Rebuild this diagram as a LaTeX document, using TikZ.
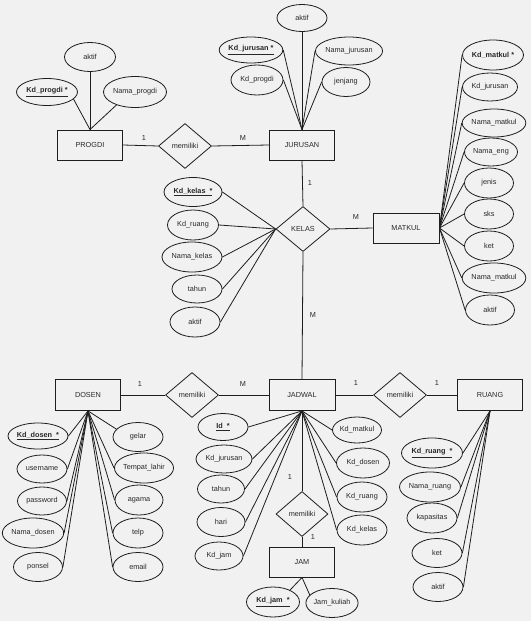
\documentclass[tikz,border=0pt]{standalone}
\usepackage{fontspec}
\setmainfont{Liberation Sans}
\usetikzlibrary{shapes.geometric}
\definecolor{bgc}{RGB}{241,241,241}
\definecolor{ink}{RGB}{30,30,30}
\definecolor{txt}{RGB}{40,40,40}
\newcommand{\pk}[1]{\underline{\textbf{#1}}}
\begin{document}
\begin{tikzpicture}[x=1pt,y=-1pt,
  every node/.style={font=\fontsize{7.3}{8.5}\selectfont, text=txt},
  ent/.style={draw=ink, line width=0.9pt, rectangle, minimum width=65pt, minimum height=30pt, inner sep=0pt},
  rel/.style={draw=ink, line width=0.8pt, diamond, minimum width=53pt, minimum height=45pt, inner sep=0pt},
  attr/.style 2 args={draw=ink, line width=0.8pt, ellipse, minimum width=#1pt, minimum height=#2pt, inner sep=0pt},
  card/.style={inner sep=0pt},
  conn/.style={draw=ink, line width=0.8pt}]
\fill[bgc] (0,0) rectangle (531,621);
\useasboundingbox (0,0) rectangle (531,621);

% entities and relations
\node[ent] (progdi) at (90,145) {PROGDI};
\node[rel] (m1) at (185,146) {memiliki};
\node[ent] (jur) at (302,145) {JURUSAN};
\node[rel, minimum width=54pt] (kelas) at (303,229) {KELAS};
\node[ent, minimum width=66pt] (matkul) at (406,228) {MATKUL};
\node[ent, minimum height=31pt] (dosen) at (88,395) {DOSEN};
\node[rel] (m2) at (192,395) {memiliki};
\node[ent, minimum width=66pt, minimum height=31pt] (jadwal) at (302,395) {JADWAL};
\node[rel] (m3) at (400,395) {memiliki};
\node[ent, minimum height=31pt] (ruang) at (490,395) {RUANG};
\node[rel, minimum width=52pt] (m4) at (302,514) {memiliki};
\node[ent] (jam) at (302,562) {JAM};

% relationship lines
\draw[conn] (progdi.east) -- (m1.west);
\draw[conn] (m1.east) -- (jur.west);
\draw[conn] (jur.south) -- (kelas.north);
\draw[conn] (kelas.east) -- (matkul.west);
\draw[conn] (kelas.south) -- (jadwal.north);
\draw[conn] (dosen.east) -- (m2.west);
\draw[conn] (m2.east) -- (jadwal.west);
\draw[conn] (jadwal.east) -- (m3.west);
\draw[conn] (m3.east) -- (ruang.west);
\draw[conn] (jadwal.south) -- (m4.north);
\draw[conn] (m4.south) -- (jam.north);

% cardinalities
\node[card] (c1) at (144,138) {1};
\node[card] (c2) at (243,138) {M};
\node[card] (c3) at (310,183) {1};
\node[card] (c4) at (356,217) {M};
\node[card] (c5) at (313,315) {M};
\node[card] (c6) at (140,384) {1};
\node[card] (c7) at (243,384) {M};
\node[card] (c8) at (356,383) {1};
\node[card] (c9) at (437,383) {1};
\node[card] (c10) at (290,477) {1};
\node[card] (c11) at (313,537) {1};

% PROGDI attributes
\node[attr={51}{29}] (pa1) at (90,57) {aktif};
\node[attr={61}{27}] (pa2) at (47,92) {\pk{Kd\_progdi *}};
\node[attr={63}{31}] (pa3) at (135,92) {Nama\_progdi};
\draw[conn] (progdi.north) -- (pa1.south);
\draw[conn] (progdi.north) -- (pa2.-15);
\draw[conn] (progdi.north) -- (pa3.-145);

% JURUSAN attributes
\node[attr={50}{27}] (ja1) at (302,18) {aktif};
\node[attr={63}{26}] (ja2) at (251,50) {\pk{Kd\_jurusan *}};
\node[attr={58}{28}] (ja3) at (349,51) {Nama\_jurusan};
\node[attr={52}{30}] (ja4) at (257,80) {Kd\_progdi};
\node[attr={48}{29}] (ja5) at (346,82) {jenjang};
\draw[conn] (jur.north) -- (ja1.south);
\foreach \a in {ja2,ja4} \draw[conn] (jur.north) -- (\a.east);
\foreach \a in {ja3,ja5} \draw[conn] (jur.north) -- (\a.west);

% MATKUL attributes
\node[attr={61}{30}] (ma1) at (493,55) {\textbf{Kd\_matkul *}};
\node[attr={55}{28}] (ma2) at (490,87) {Kd\_jurusan};
\node[attr={63}{28}] (ma3) at (494,123) {Nama\_matkul};
\node[attr={53}{28}] (ma4) at (491,152) {Nama\_eng};
\node[attr={49}{30}] (ma5) at (489,183) {jenis};
\node[attr={49}{30}] (ma6) at (489,214) {sks};
\node[attr={49}{30}] (ma7) at (489,246) {ket};
\node[attr={63}{30}] (ma8) at (494,278) {Nama\_matkul};
\node[attr={49}{30}] (ma9) at (490,310) {aktif};
\foreach \a in {ma1,ma2,ma3,ma4,ma5,ma6,ma7,ma8,ma9} \draw[conn] (matkul.east) -- (\a.west);

% KELAS attributes
\node[attr={58}{29}] (ka1) at (193,192) {\pk{Kd\_kelas\ \ *}};
\node[attr={51}{30}] (ka2) at (193,225) {Kd\_ruang};
\node[attr={60}{30}] (ka3) at (192,257) {Nama\_kelas};
\node[attr={50}{28}] (ka4) at (197,289) {tahun};
\node[attr={50}{30}] (ka5) at (195,322) {aktif};
\foreach \a in {ka1,ka2,ka3,ka4,ka5} \draw[conn] (kelas.west) -- (\a.east);

% DOSEN attributes
\node[attr={60}{26}] (da1) at (38,436) {\pk{Kd\_dosen\ \ *}};
\node[attr={50}{28}] (da2) at (42,469) {username};
\node[attr={49}{28}] (da3) at (42,501) {password};
\node[attr={61}{30}] (da4) at (33,533) {Nama\_dosen};
\node[attr={49}{29}] (da5) at (38,567) {ponsel};
\node[attr={50}{29}] (da6) at (138,437) {gelar};
\node[attr={55}{30}] (da7) at (144,468) {Tempat\_lahir};
\node[attr={48}{30}] (da8) at (139,500) {agama};
\node[attr={50}{30}] (da9) at (138,533) {telp};
\node[attr={50}{29}] (da10) at (138,567) {email};
\foreach \a in {da1,da2,da3,da4,da5} \draw[conn] (dosen.south) -- (\a.east);
\draw[conn] (dosen.south) -- (da6.160);
\foreach \a in {da7,da8,da9,da10} \draw[conn] (dosen.south) -- (\a.west);

% JADWAL attributes
\node[attr={50}{27}] (ta1) at (223,427) {\pk{Id\ \ *}};
\node[attr={56}{28}] (ta2) at (224,459) {Kd\_jurusan};
\node[attr={47}{28}] (ta3) at (221,489) {tahun};
\node[attr={48}{29}] (ta4) at (221,522) {hari};
\node[attr={48}{28}] (ta5) at (219,556) {Kd\_jam};
\node[attr={49}{26}] (ta6) at (357,430) {Kd\_matkul};
\node[attr={53}{30}] (ta7) at (363,463) {Kd\_dosen};
\node[attr={50}{30}] (ta8) at (362,497) {Kd\_ruang};
\node[attr={50}{30}] (ta9) at (362,530) {Kd\_kelas};
\foreach \a in {ta1,ta2,ta3,ta4,ta5} \draw[conn] (jadwal.south) -- (\a.east);
\foreach \a in {ta6,ta7,ta8,ta9} \draw[conn] (jadwal.south) -- (\a.west);

% JAM attributes
\node[attr={53}{30}] (jm1) at (273,602) {\pk{Kd\_jam\ \ *}};
\node[attr={50}{29}] (jm2) at (332,603) {Jam\_kuliah};
\draw[conn] (jam.south) -- (jm1.35);
\draw[conn] (jam.south) -- (jm2.160);

% RUANG attributes
\node[attr={61}{30}] (ra1) at (432,453) {\pk{Kd\_ruang\ \ *}};
\node[attr={61}{30}] (ra2) at (430,487) {Nama\_ruang};
\node[attr={50}{30}] (ra3) at (432,518) {kapasitas};
\node[attr={50}{29}] (ra4) at (437,553) {ket};
\node[attr={50}{29}] (ra5) at (438,587) {aktif};
\foreach \a in {ra1,ra2,ra3,ra4,ra5} \draw[conn] (ruang.south) -- (\a.east);
\end{tikzpicture}
\end{document}
